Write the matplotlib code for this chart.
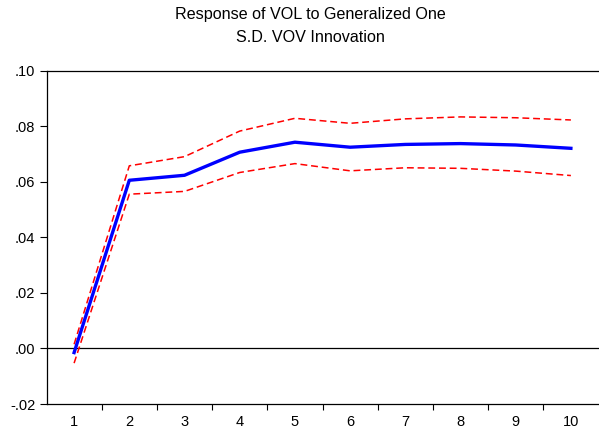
import matplotlib.pyplot as plt
import numpy as np

plt.rcParams['font.family'] = ['Liberation Sans', 'DejaVu Sans']

periods = [1, 2, 3, 4, 5, 6, 7, 8, 9, 10]
response = [-0.0015, 0.0605, 0.0623, 0.0706, 0.0742, 0.0724, 0.0734, 0.0737, 0.0732, 0.0720]
upper = [0.0015, 0.0657, 0.0690, 0.0782, 0.0828, 0.0810, 0.0826, 0.0833, 0.0830, 0.0822]
lower = [-0.0053, 0.0555, 0.0565, 0.0633, 0.0665, 0.0639, 0.0650, 0.0648, 0.0638, 0.0622]
ytick_vals = [-0.02, 0.00, 0.02, 0.04, 0.06, 0.08, 0.10]
ytick_labels = ['-.02', '.00', '.02', '.04', '.06', '.08', '.10']

fig = plt.figure(figsize=(5.99, 4.28), dpi=100)
ax = fig.add_axes([46.5 / 599, 24 / 428, 552 / 599, 333.5 / 428])

ax.axhline(0, color='black', lw=0.9)
ax.plot(periods, upper, color='red', lw=1.1, ls=(0, (4.5, 2.5)))
ax.plot(periods, lower, color='red', lw=1.1, ls=(0, (4.5, 2.5)))
ax.plot(periods, response, color='blue', lw=2.4)

ax.set_xlim(0.5, 10.5)
ax.set_ylim(-0.02, 0.10)
ax.set_yticks(ytick_vals)
ax.set_yticklabels(ytick_labels)
ax.set_xticks(periods)
ax.set_xticks(np.arange(1.5, 10.5, 1), minor=True)
ax.tick_params(axis='x', which='major', length=0, pad=8, labelsize=10.5)
ax.tick_params(axis='x', which='minor', length=4, width=0.8, direction='out')
ax.tick_params(axis='y', length=5, width=0.8, pad=3, labelsize=10.5)

ax.spines['right'].set_visible(False)
for s in ['left', 'bottom', 'top']:
    ax.spines[s].set_linewidth(0.9)

fig.text(310 / 599, 1 - 15 / 428, 'Response of VOL to Generalized One', fontsize=11.6,
         ha='center', va='center')
fig.text(310 / 599, 1 - 37 / 428, 'S.D. VOV Innovation', fontsize=11.6,
         ha='center', va='center')

fig.savefig('out.png', dpi=100)
